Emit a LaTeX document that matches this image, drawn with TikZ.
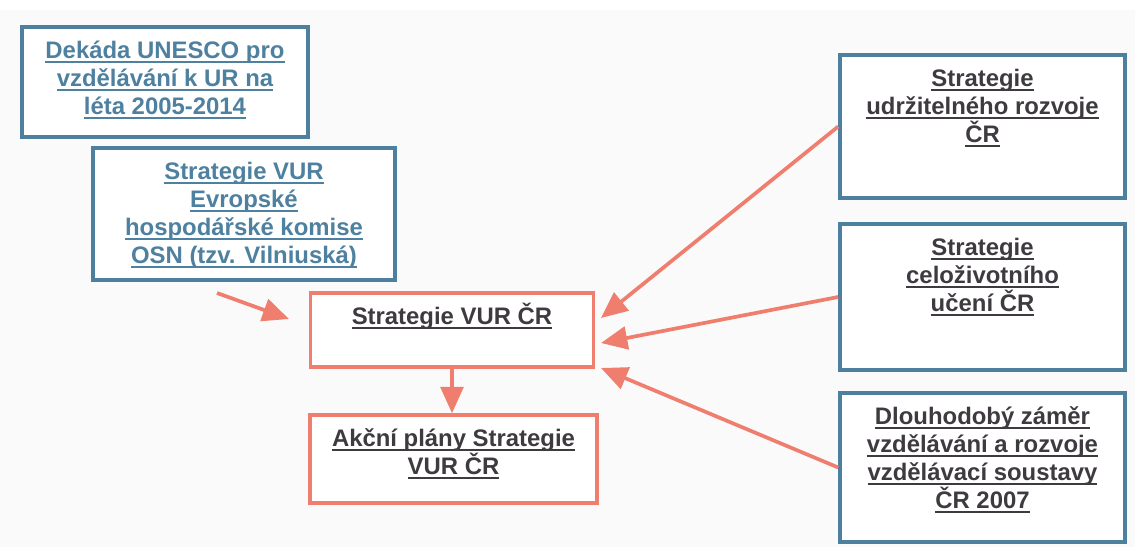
\documentclass[tikz,border=0pt]{standalone}
\usepackage{fontspec}
\setmainfont{Liberation Sans}
\usetikzlibrary{arrows.meta}

\definecolor{modra}{RGB}{76,128,158}
\definecolor{modratext}{RGB}{78,128,160}
\definecolor{cervena}{RGB}{240,126,110}
\definecolor{tmava}{RGB}{62,58,64}

% podtrzeny radek
\newcommand\uln[1]{\leavevmode\setbox0\hbox{#1}\rlap{\rule[-2.6pt]{\wd0}{1pt}}\box0\par}
% obsah ramecku: sirka, vyska, radky
\newcommand\ramtext[3]{\parbox[c][#2][t]{#1}{\centering\leavevmode\rule{0pt}{17.7pt}#3}}

\begin{document}
\begin{tikzpicture}[x=0.02cm, y=-0.02cm]
	\tikzstyle{ram}   = [rectangle, inner sep=0pt, line width=2.1pt, fill=white,
	                     font=\fontsize{13.6}{16}\selectfont\bfseries]
	\tikzstyle{vnejsi} = [ram, draw=modra, text=modratext]
	\tikzstyle{cr}     = [ram, draw=modra, text=tmava]
	\tikzstyle{hlavni} = [ram, draw=cervena, text=tmava]
	\tikzstyle{sipka}  = [draw=cervena, line width=2.1pt, -{Triangle[length=15pt, width=13pt]}]

	\useasboundingbox (0,0) rectangle (1135,547);
	\fill[gray!4] (0,10) rectangle (1135,547);

%	\draw[step=50, gray!50] (0,0) grid (1135,547);

	\node[vnejsi] (dekada) at (165, 82)
		{\ramtext{5.72cm}{2.2cm}{\uln{Dekáda UNESCO pro}\uln{vzdělávání k UR na}\uln{léta 2005-2014}}};
	\node[vnejsi] (evropska) at (244, 214)
		{\ramtext{6.04cm}{2.64cm}{\uln{Strategie VUR}\uln{Evropské}\uln{hospodářské komise}\uln{OSN (tzv. Vilniuská)}}};

	\node[hlavni] (strategie) at (452, 330)
		{\ramtext{5.66cm}{1.48cm}{\uln{Strategie VUR ČR}}};
	\node[hlavni] (akcni) at (453.5, 459)
		{\ramtext{5.74cm}{1.76cm}{\uln{Akční plány Strategie}\uln{VUR ČR}}};

	\node[cr] (udrzitelny) at (982.5, 126.5)
		{\ramtext{5.7cm}{2.86cm}{\uln{Strategie}\uln{udržitelného rozvoje}\uln{ČR}}};
	\node[cr] (celozivotni) at (982.5, 297)
		{\ramtext{5.7cm}{2.92cm}{\uln{Strategie}\uln{celoživotního}\uln{učení ČR}}};
	\node[cr] (zamer) at (982.5, 467.5)
		{\ramtext{5.7cm}{2.98cm}{\uln{Dlouhodobý záměr}\uln{vzdělávání a rozvoje}\uln{vzdělávací soustavy}\uln{ČR 2007}}};

	\coordinate (vilnius) at (217, 293);
	\coordinate (vlevo) at (289, 319);
	\foreach \name/\y in {t1/318, t2/343, t3/368}
		\coordinate (\name) at (601, \y);

	\draw[sipka] (vilnius) -- (vlevo);
	\foreach \from/\to in {udrzitelny/t1, celozivotni/t2, zamer/t3}
		\draw[sipka] (\from.west) -- (\to);
	\draw[sipka] (strategie.south) -- (strategie.south |- akcni.north);
\end{tikzpicture}
\end{document}
